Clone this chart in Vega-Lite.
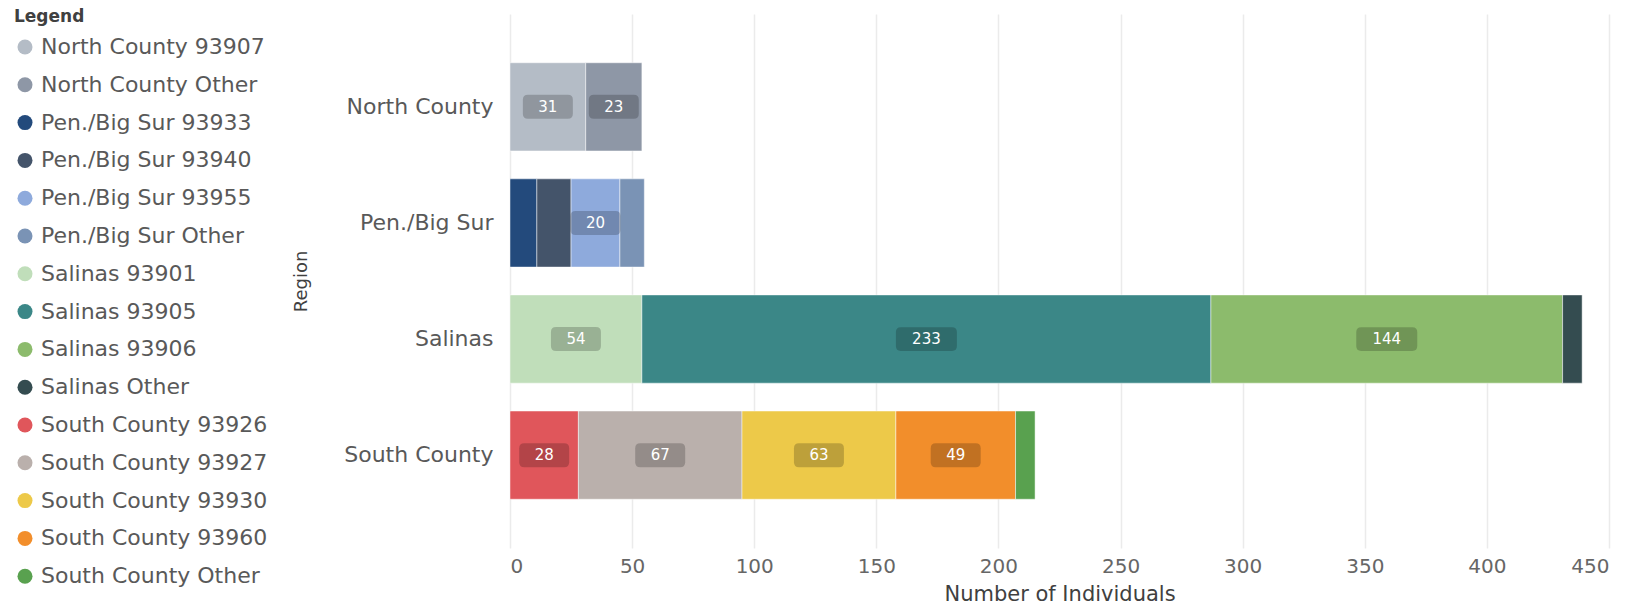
{
  "$schema": "https://vega.github.io/schema/vega-lite/v6.json",
  "width": 1099,
  "height": 534,
  "autosize": "none",
  "padding": {"left": 510, "top": 14, "right": 33, "bottom": 60},
  "background": "white",
  "config": {"view": {"stroke": null}, "font": "DejaVu Sans"},
  "data": {"values": [
    {"region": "North County", "segment": "North County 93907", "count": 31},
    {"region": "North County", "segment": "North County Other", "count": 23},
    {"region": "Pen./Big Sur", "segment": "Pen./Big Sur 93933", "count": 11},
    {"region": "Pen./Big Sur", "segment": "Pen./Big Sur 93940", "count": 14},
    {"region": "Pen./Big Sur", "segment": "Pen./Big Sur 93955", "count": 20},
    {"region": "Pen./Big Sur", "segment": "Pen./Big Sur Other", "count": 10},
    {"region": "Salinas", "segment": "Salinas 93901", "count": 54},
    {"region": "Salinas", "segment": "Salinas 93905", "count": 233},
    {"region": "Salinas", "segment": "Salinas 93906", "count": 144},
    {"region": "Salinas", "segment": "Salinas Other", "count": 8},
    {"region": "South County", "segment": "South County 93926", "count": 28},
    {"region": "South County", "segment": "South County 93927", "count": 67},
    {"region": "South County", "segment": "South County 93930", "count": 63},
    {"region": "South County", "segment": "South County 93960", "count": 49},
    {"region": "South County", "segment": "South County Other", "count": 8}
  ]},
  "encoding": {
    "y": {
      "field": "region", "type": "nominal",
      "sort": ["North County", "Pen./Big Sur", "Salinas", "South County"],
      "scale": {"paddingInner": 0.24, "paddingOuter": 0.42},
      "title": "Region",
      "axis": {
        "domain": false, "ticks": false, "grid": false,
        "labelFontSize": 22, "labelColor": "#595959", "labelPadding": 17,
        "titleFontSize": 18, "titleFontWeight": "normal", "titleColor": "#404040",
        "titlePadding": 33
      }
    },
    "order": {"field": "segment", "sort": "ascending"}
  },
  "layer": [
    {
      "mark": {"type": "bar", "stroke": "white", "strokeWidth": 0.8, "strokeOpacity": 0.6},
      "encoding": {
        "x": {
          "field": "count", "type": "quantitative", "stack": "zero",
          "scale": {"domain": [0, 450], "nice": false},
          "title": "Number of Individuals",
          "axis": {
            "values": [0, 50, 100, 150, 200, 250, 300, 350, 400, 450],
            "grid": true, "gridColor": "#EBEBEB", "gridWidth": 1.5,
            "domain": false, "ticks": false,
            "labelFontSize": 20, "labelColor": "#666666", "labelPadding": 8,
            "titleFontSize": 21, "titleFontWeight": "normal", "titleColor": "#404040",
            "titlePadding": 7
          }
        },
        "color": {
          "field": "segment", "type": "nominal",
          "scale": {
            "domain": ["North County 93907", "North County Other", "Pen./Big Sur 93933", "Pen./Big Sur 93940", "Pen./Big Sur 93955", "Pen./Big Sur Other", "Salinas 93901", "Salinas 93905", "Salinas 93906", "Salinas Other", "South County 93926", "South County 93927", "South County 93930", "South County 93960", "South County Other"],
            "range": ["#B4BCC6", "#8E97A6", "#234A7C", "#44546A", "#8EAADC", "#7A93B5", "#C0DEBA", "#3B8787", "#8CBB6C", "#344C50", "#E0565B", "#BAB0AC", "#EDC949", "#F28E2B", "#59A14F"]
          },
          "legend": {
            "orient": "none", "legendX": -496, "legendY": -5,
            "title": "Legend", "titleFontSize": 17, "titleFontWeight": "bold", "titleColor": "#404040",
            "titlePadding": 10,
            "labelFontSize": 22, "labelColor": "#595959", "labelLimit": 400, "labelOffset": 5,
            "symbolType": "circle", "symbolSize": 225, "symbolStrokeWidth": 0, "symbolOpacity": 1,
            "rowPadding": 15.8
          }
        }
      }
    },
    {
      "mark": {"type": "point", "filled": true, "color": "black", "size": 2500,
        "shape": "M-0.8,-0.48 L0.8,-0.48 Q1,-0.48 1,-0.28 L1,0.28 Q1,0.48 0.8,0.48 L-0.8,0.48 Q-1,0.48 -1,0.28 L-1,-0.28 Q-1,-0.48 -0.8,-0.48 Z"},
      "encoding": {
        "x": {"field": "count", "type": "quantitative", "stack": "zero", "bandPosition": 0.5},
        "detail": {"field": "segment"},
        "opacity": {"condition": {"test": "datum.count >= 20 && datum.count < 100", "value": 0.2}, "value": 0}
      }
    },
    {
      "mark": {"type": "point", "filled": true, "color": "black", "size": 3721,
        "shape": "M-0.84,-0.39 L0.84,-0.39 Q1,-0.39 1,-0.23 L1,0.23 Q1,0.39 0.84,0.39 L-0.84,0.39 Q-1,0.39 -1,0.23 L-1,-0.23 Q-1,-0.39 -0.84,-0.39 Z"},
      "encoding": {
        "x": {"field": "count", "type": "quantitative", "stack": "zero", "bandPosition": 0.5},
        "detail": {"field": "segment"},
        "opacity": {"condition": {"test": "datum.count >= 100", "value": 0.2}, "value": 0}
      }
    },
    {
      "mark": {"type": "text", "color": "white", "fontSize": 15, "baseline": "middle", "align": "center"},
      "encoding": {
        "x": {"field": "count", "type": "quantitative", "stack": "zero", "bandPosition": 0.5},
        "detail": {"field": "segment"},
        "text": {"condition": {"test": "datum.count >= 20", "field": "count", "type": "quantitative"}, "value": ""}
      }
    }
  ]
}
